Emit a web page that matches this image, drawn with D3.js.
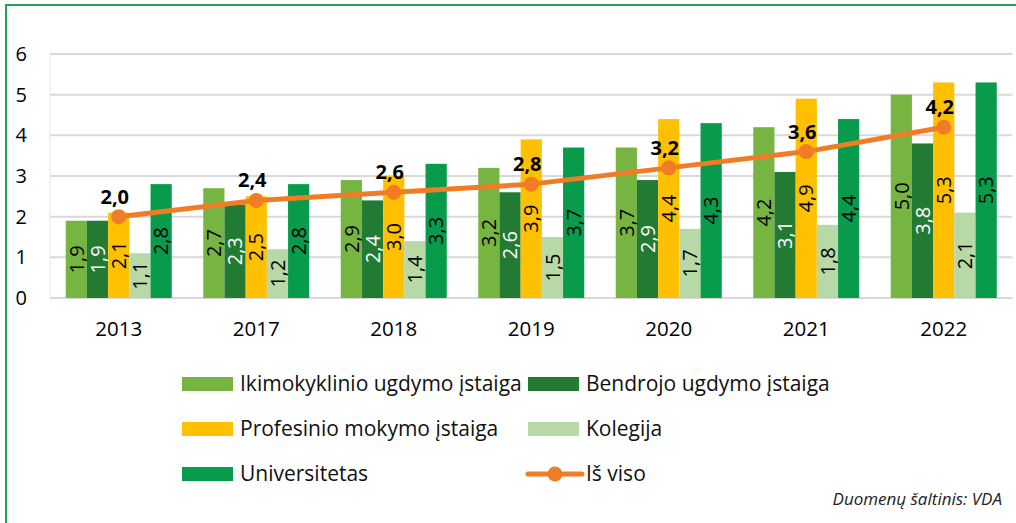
<!DOCTYPE html>
<html>
<head>
<meta charset="utf-8">
<script src="https://cdn.jsdelivr.net/npm/d3@7"></script>
<style>
  body { margin: 0; background: #ffffff; }
  svg { display: block; font-family: "Open Sans", Lato, sans-serif; }
</style>
</head>
<body>
<div id="viz"></div>
<script>
var width = 1016,
    height = 523;

// Data
var years = ["2013", "2017", "2018", "2019", "2020", "2021", "2022"];
var seriesNames = ["Ikimokyklinio ugdymo įstaiga", "Bendrojo ugdymo įstaiga",
    "Profesinio mokymo įstaiga", "Kolegija", "Universitetas"];
var ikimokyklinio = [1.9, 2.7, 2.9, 3.2, 3.7, 4.2, 5.0];
var bendrojo = [1.9, 2.3, 2.4, 2.6, 2.9, 3.1, 3.8];
var profesinio = [2.1, 2.5, 3.0, 3.9, 4.4, 4.9, 5.3];
var kolegija = [1.1, 1.2, 1.4, 1.5, 1.7, 1.8, 2.1];
var universitetas = [2.8, 2.8, 3.3, 3.7, 4.3, 4.4, 5.3];
var isViso = [2.0, 2.4, 2.6, 2.8, 3.2, 3.6, 4.2];
var lineName = "Iš viso";
var yTicks = [0, 1, 2, 3, 4, 5, 6];
var sourceText = "Duomenų šaltinis: VDA";

var seriesValues = [ikimokyklinio, bendrojo, profesinio, kolegija, universitetas];
var colors = ["#77b543", "#237a33", "#ffc000", "#b7d9a5", "#079b4b"];
var labelColors = ["#000", "#fff", "#000", "#000", "#000"];
var lineColor = "#f07d26";

var fmt = function(v) { return d3.format(".1f")(v).replace(".", ","); };

var margin = {left: 50, right: 1012.5, top: 54, bottom: 298};

var svg = d3.select("div#viz")
    .append("svg")
    .attr("width", width)
    .attr("height", height);

// green frame (top and left only)
svg.append("path")
    .attr("d", "M6," + (height + 5) + "V5H" + (width + 5))
    .attr("fill", "none")
    .attr("stroke", "#1ba65a")
    .attr("stroke-width", 2);

var x = d3.scaleBand()
    .domain(years)
    .range([margin.left, margin.right])
    .paddingInner(0.229)
    .paddingOuter(0.1145);

var x1 = d3.scaleBand()
    .domain(d3.range(seriesNames.length))
    .range([0, x.bandwidth()]);

var y = d3.scaleLinear()
    .domain([0, 6])
    .range([margin.bottom, margin.top]);

// gridlines
svg.append("g")
    .selectAll("line")
    .data(yTicks)
    .enter().append("line")
    .attr("x1", margin.left)
    .attr("x2", margin.right)
    .attr("y1", function(d) { return y(d); })
    .attr("y2", function(d) { return y(d); })
    .attr("stroke", "#d9d9d9")
    .attr("stroke-width", 2);

svg.append("line")
    .attr("x1", margin.left).attr("x2", margin.left)
    .attr("y1", y(6)).attr("y2", y(0))
    .attr("stroke", "#e6e6e6")
    .attr("stroke-width", 1);

// y axis labels
svg.append("g")
    .selectAll("text")
    .data(yTicks)
    .enter().append("text")
    .attr("x", 27)
    .attr("y", function(d) { return y(d) + 7; })
    .attr("text-anchor", "end")
    .attr("font-size", 20)
    .attr("fill", "#000")
    .text(function(d) { return d; });

// x axis labels
svg.append("g")
    .selectAll("text")
    .data(years)
    .enter().append("text")
    .attr("x", function(d) { return x(d) + x.bandwidth() / 2; })
    .attr("y", 336)
    .attr("text-anchor", "middle")
    .attr("font-size", 20.5)
    .attr("fill", "#000")
    .text(function(d) { return d; });

// bars
var bars = [];
seriesValues.forEach(function(vals, s) {
    vals.forEach(function(v, i) {
        bars.push({year: years[i], s: s, value: v});
    });
});

var barG = svg.append("g");

barG.selectAll("rect")
    .data(bars)
    .enter().append("rect")
    .attr("x", function(d) { return x(d.year) + x1(d.s); })
    .attr("y", function(d) { return y(d.value); })
    .attr("width", x1.bandwidth())
    .attr("height", function(d) { return y(0) - y(d.value); })
    .attr("fill", function(d) { return colors[d.s]; });

barG.selectAll("text")
    .data(bars)
    .enter().append("text")
    .attr("transform", function(d) {
        var cx = x(d.year) + x1(d.s) + x1.bandwidth() / 2;
        var cy = (y(d.value) + y(0)) / 2;
        return "translate(" + cx + "," + cy + ") rotate(-90)";
    })
    .attr("text-anchor", "middle")
    .attr("dy", "0.36em")
    .attr("font-size", 20)
    .attr("fill", function(d) { return labelColors[d.s]; })
    .text(function(d) { return fmt(d.value); });

// total line
var line = d3.line()
    .x(function(d, i) { return x(years[i]) + x.bandwidth() / 2; })
    .y(function(d) { return y(d); });

svg.append("path")
    .datum(isViso)
    .attr("d", line)
    .attr("fill", "none")
    .attr("stroke", lineColor)
    .attr("stroke-width", 5)
    .attr("stroke-linejoin", "round");

svg.append("g")
    .selectAll("circle")
    .data(isViso)
    .enter().append("circle")
    .attr("cx", function(d, i) { return x(years[i]) + x.bandwidth() / 2; })
    .attr("cy", function(d) { return y(d); })
    .attr("r", 7.5)
    .attr("fill", lineColor);

svg.append("g")
    .selectAll("text")
    .data(isViso)
    .enter().append("text")
    .attr("x", function(d, i) { return x(years[i]) + x.bandwidth() / 2 - 4; })
    .attr("y", function(d) { return y(d) - 13; })
    .attr("text-anchor", "middle")
    .attr("font-size", 20)
    .attr("font-weight", "bold")
    .attr("fill", "#000")
    .text(function(d) { return fmt(d); });

// legend
var legendItems = seriesNames.map(function(n, i) { return {name: n, color: colors[i], line: false}; });
legendItems.push({name: lineName, color: lineColor, line: true});

var colX = [182, 528],
    rowY = [384, 429, 474];

var legend = svg.append("g")
    .selectAll("g")
    .data(legendItems)
    .enter().append("g")
    .attr("transform", function(d, i) {
        return "translate(" + colX[i % 2] + "," + rowY[Math.floor(i / 2)] + ")";
    });

legend.filter(function(d) { return !d.line; })
    .append("rect")
    .attr("x", 0)
    .attr("y", -7)
    .attr("width", 51)
    .attr("height", 14)
    .attr("fill", function(d) { return d.color; });

legend.filter(function(d) { return d.line; })
    .append("line")
    .attr("x1", 0).attr("x2", 54)
    .attr("y1", 0).attr("y2", 0)
    .attr("stroke", function(d) { return d.color; })
    .attr("stroke-width", 5)
    .attr("stroke-linecap", "round");

legend.filter(function(d) { return d.line; })
    .append("circle")
    .attr("cx", 27)
    .attr("cy", 0)
    .attr("r", 7.5)
    .attr("fill", function(d) { return d.color; });

legend.append("text")
    .attr("x", 58)
    .attr("y", 7)
    .attr("font-size", 21)
    .attr("fill", "#111")
    .text(function(d) { return d.name; });

// source
svg.append("text")
    .attr("x", 1002)
    .attr("y", 505)
    .attr("text-anchor", "end")
    .attr("font-size", 17)
    .attr("font-style", "italic")
    .attr("fill", "#222")
    .text(sourceText);
</script>
</body>
</html>
